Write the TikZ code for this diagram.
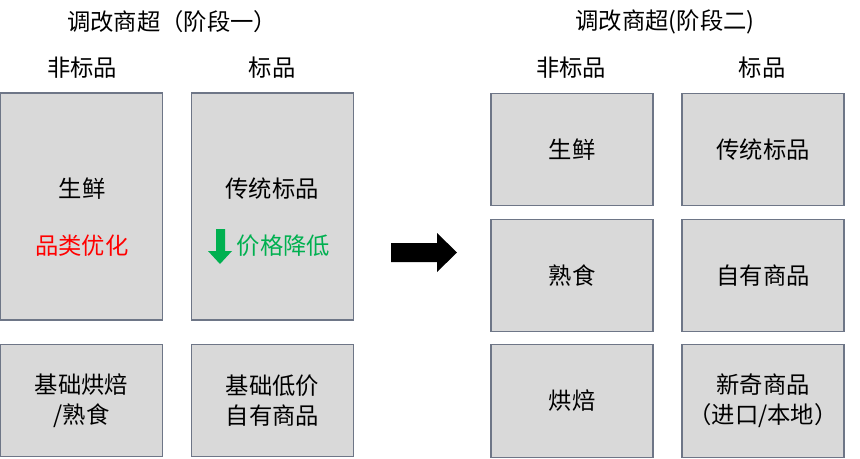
\documentclass[tikz,border=0pt]{standalone}
\usepackage{fontspec}
\usepackage{tikz}
\newfontfamily\cjk{Noto Sans CJK SC}
\definecolor{boxgray}{RGB}{217,217,217}
\definecolor{boxline}{RGB}{110,118,135}
\definecolor{okgreen}{RGB}{0,176,80}

\begin{document}
\begin{tikzpicture}[x=0.75pt, y=-0.75pt,
  txt/.style={font=\cjk\fontsize{17.5}{22.5}\selectfont, align=center, inner sep=0pt},
  boxnode/.style={rectangle, draw=boxline, line width=0.8pt, fill=boxgray, inner sep=0pt, txt},
  tallbox/.style={boxnode, minimum width=121.5pt, minimum height=170.25pt},
  smallbox/.style={boxnode, minimum width=121.5pt, minimum height=84.5pt},]
\useasboundingbox (0,0) rectangle (860,458);
% stage one
\node[txt] (title_one) at (172, 22) {调改商超（阶段一）};
\node[txt] (nonstd_one) at (82, 68) {非标品};
\node[txt] (std_one) at (272, 68) {标品};
\node[tallbox] (fresh_one) at (81.5, 206.5) {};
\node[tallbox] (trad_one) at (272.5, 206.5) {};
\node[smallbox] (bake_one) at (81.5, 400.5) {基础烘焙\\/熟食};
\node[smallbox] (own_one) at (272.5, 400.5) {基础低价\\自有商品};
\node[txt] (fresh_lbl) at (82, 189) {生鲜};
\node[txt, text=red] (fresh_note) at (82, 246) {品类优化};
\node[txt] (trad_lbl) at (272, 189) {传统标品};
\node[txt, text=okgreen] (trad_note) at (283.5, 246) {价格降低};
\fill[okgreen] (216,229) -- (225,229) -- (225,251) -- (232,251) -- (220,264) -- (208,251) -- (216,251) -- cycle;
% big arrow
\fill[black] (391,243) -- (437,243) -- (437,233) -- (457,252.5) -- (437,272) -- (437,262) -- (391,262) -- cycle;
% stage two
\node[txt] (title_two) at (665, 22) {调改商超(阶段二)};
\node[txt] (nonstd_two) at (571, 68) {非标品};
\node[txt] (std_two) at (762, 68) {标品};
\node[smallbox] (fresh_two) at (572, 149.5) {生鲜};
\node[smallbox] (trad_two) at (763, 149.5) {传统标品};
\node[smallbox] (deli_two) at (572, 275.5) {熟食};
\node[smallbox] (own_two) at (763, 275.5) {自有商品};
\node[smallbox] (bake_two) at (572, 401) {烘焙};
\node[smallbox] (novel_two) at (763, 401) {新奇商品\\（进口/本地）};
\end{tikzpicture}
\end{document}
